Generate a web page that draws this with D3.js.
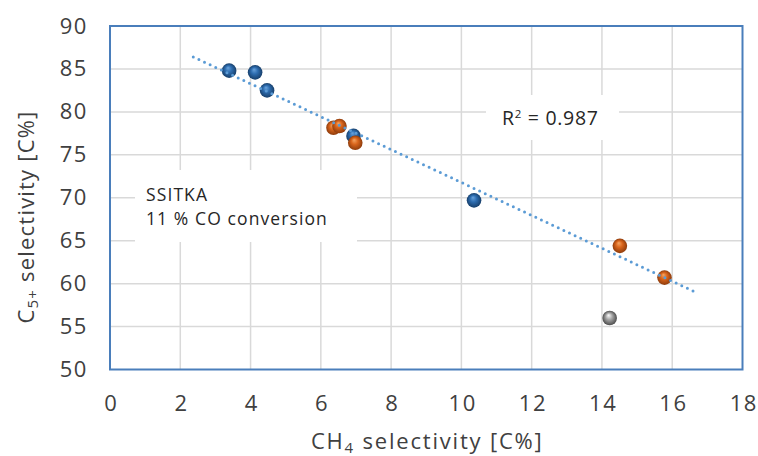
<!DOCTYPE html>
<html><head><meta charset="utf-8">
<script src="https://cdn.jsdelivr.net/npm/d3@7"></script>
<style>
html,body{margin:0;padding:0;background:#fff;}
svg{display:block;font-family:"Open Sans","Noto Sans",sans-serif;}
</style></head>
<body>
<svg id="c" width="758" height="456"></svg>
<script>
// ---- data ----
const xTicks = [0,2,4,6,8,10,12,14,16,18];
const yTicks = [50,55,60,65,70,75,80,85,90];
const blueX = [3.39, 4.13, 4.47, 6.93, 10.36];
const blueY = [84.8, 84.6, 82.5, 77.2, 69.7];
const orangeX = [6.36, 6.53, 6.98, 14.51, 15.78];
const orangeY = [78.15, 78.35, 76.4, 64.4, 60.7];
const greyX = [14.22];
const greyY = [56.0];
const trendX = [2.37, 16.67];
const trendY = [86.4, 59.0];
const r2Label = "0.987";
const noteLines = ["SSITKA", "11 % CO conversion"];

// ---- layout ----
const L = 110, R = 742.5, T = 26, B = 369.5;
const FONT = "'Open Sans'";
const svg = d3.select("#c");
const x = d3.scaleLinear().domain([0,18]).range([L,R]);
const y = d3.scaleLinear().domain([50,90]).range([B,T]);

// gradients
const defs = svg.append("defs");
function grad(id, hi, mid, lo){
  const g = defs.append("radialGradient").attr("id",id)
    .attr("cx","0.5").attr("cy","0.5").attr("r","0.5")
    .attr("fx","0.42").attr("fy","0.3");
  g.append("stop").attr("offset","0%").attr("stop-color",hi);
  g.append("stop").attr("offset","45%").attr("stop-color",mid);
  g.append("stop").attr("offset","100%").attr("stop-color",lo);
}
grad("gBlue","#6aa3dc","#2e6db0","#173f6b");
grad("gOrange","#f4a563","#d9651c","#8f3c0c");
grad("gGrey","#ffffff","#a6a6a6","#4d4d4d");

// gridlines
const grid = svg.append("g");
grid.selectAll("line.v").data(xTicks.slice(1,-1)).join("line")
  .attr("x1",d=>x(d)).attr("x2",d=>x(d)).attr("y1",T).attr("y2",B)
  .attr("stroke","#d9d9d9").attr("stroke-width",1.5);
grid.selectAll("line.h").data(yTicks.slice(1,-1)).join("line")
  .attr("x1",L).attr("x2",R).attr("y1",d=>y(d)).attr("y2",d=>y(d))
  .attr("stroke","#d9d9d9").attr("stroke-width",1.5);

// label boxes (white)
svg.append("rect").attr("x",486).attr("y",95).attr("width",133).attr("height",45).attr("fill","#fff");
svg.append("rect").attr("x",135).attr("y",170).attr("width",222).attr("height",72).attr("fill","#fff");

// border
svg.append("rect").attr("x",L).attr("y",T).attr("width",R-L).attr("height",B-T)
  .attr("fill","none").attr("stroke","#4a7ebb").attr("stroke-width",2);

// axes (labels only)
const xAxis = d3.axisBottom(x).tickValues(xTicks).tickSize(0).tickPadding(26);
const gx = svg.append("g").attr("transform",`translate(0,${B})`).call(xAxis);
gx.select(".domain").remove();
gx.selectAll("text").attr("font-size",22).attr("fill","#404040").attr("font-family",FONT)
  .attr("letter-spacing",1.6).attr("dx",0.8);
const yAxis = d3.axisLeft(y).tickValues(yTicks).tickSize(0).tickPadding(22);
const gy = svg.append("g").attr("transform",`translate(${L},0)`).call(yAxis);
gy.select(".domain").remove();
gy.selectAll("text").attr("font-size",22).attr("fill","#404040").attr("font-family",FONT)
  .attr("letter-spacing",1.6);

// markers
function pts(xs, ys, fill){
  svg.append("g").selectAll("circle").data(xs.map((d,i)=>[d,ys[i]])).join("circle")
    .attr("cx",d=>x(d[0])).attr("cy",d=>y(d[1])).attr("r",7.3)
    .attr("fill",`url(#${fill})`);
}
pts(blueX, blueY, "gBlue");
pts(orangeX, orangeY, "gOrange");
pts(greyX, greyY, "gGrey");

// trendline
svg.append("line")
  .attr("x1",x(trendX[0])).attr("y1",y(trendY[0]))
  .attr("x2",x(trendX[1])).attr("y2",y(trendY[1]))
  .attr("stroke","#5b9bd5").attr("stroke-width",3)
  .attr("stroke-linecap","round").attr("stroke-dasharray","0,6.2");

// R² text
const rt = svg.append("text").attr("x",502).attr("y",125).attr("font-size",19.5)
  .attr("letter-spacing",0.7).attr("fill","#262626");
rt.append("tspan").text("R");
rt.append("tspan").attr("font-size",11.5).attr("dy",-7.5).text("2");
rt.append("tspan").attr("dy",7.5).text(" = " + r2Label);

// note text
svg.append("g").selectAll("text").data(noteLines).join("text")
  .attr("x",146).attr("y",(d,i)=>200.5+i*24.2).attr("font-size",17.5)
  .attr("letter-spacing",1.1).attr("fill","#262626")
  .text(d=>d);

// axis titles
const xt = svg.append("text").attr("x",(L+R)/2+1).attr("y",449).attr("text-anchor","middle")
  .attr("font-size",22).attr("letter-spacing",1.8).attr("fill","#404040");
xt.append("tspan").text("CH");
xt.append("tspan").attr("font-size",15).attr("dy",4).text("4");
xt.append("tspan").attr("dy",-4).text(" selectivity [C%]");

const yt = svg.append("text").attr("transform",`translate(34,217) rotate(-90)`)
  .attr("text-anchor","middle").attr("font-size",22).attr("letter-spacing",1.2).attr("fill","#404040");
yt.append("tspan").text("C");
yt.append("tspan").attr("font-size",15).attr("dy",4).text("5+");
yt.append("tspan").attr("dy",-4).text(" selectivity [C%]");
</script>
</body></html>
